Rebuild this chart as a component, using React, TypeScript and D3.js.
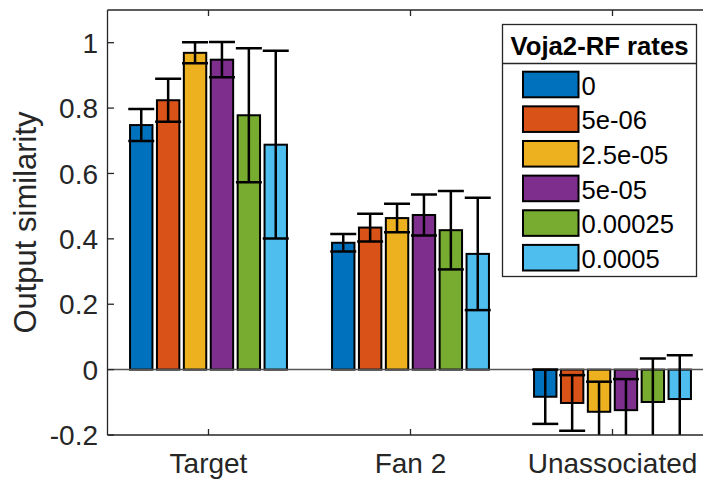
import React from 'react';
import * as d3 from 'd3';

const categories = ['Target', 'Fan 2', 'Unassociated'];
const rates = ['0', '5e-06', '2.5e-05', '5e-05', '0.00025', '0.0005'];
const colors = ['#0072BD', '#D95319', '#EDB120', '#7E2F8E', '#77AC30', '#4DBEEE'];
// means[category][rate]
const targetMeans = [0.748, 0.824, 0.969, 0.948, 0.778, 0.688];
const fan2Means = [0.388, 0.4345, 0.4635, 0.473, 0.4265, 0.354];
const unassocMeans = [-0.083, -0.102, -0.129, -0.124, -0.099, -0.09];
const targetErr = [0.049, 0.066, 0.032, 0.054, 0.205, 0.287];
const fan2Err = [0.027, 0.0425, 0.0435, 0.063, 0.12, 0.172];
const unassocErr = [0.083, 0.085, 0.092, 0.095, 0.133, 0.134];
const yTicks = [-0.2, 0, 0.2, 0.4, 0.6, 0.8, 1];
const yTickLabels = ['-0.2', '0', '0.2', '0.4', '0.6', '0.8', '1'];

const means = [targetMeans, fan2Means, unassocMeans];
const errs = [targetErr, fan2Err, unassocErr];

const W = 703;
const H = 481;
const FONT = '"Liberation Sans", Arial, Helvetica, sans-serif';
const AX = '#262626';

export default function App() {
  const x = d3.scaleLinear().domain([0.5, 3.5]).range([107.5, 713.5]);
  const y = d3.scaleLinear().domain([-0.2, 1.1]).range([435, 10]);
  const groupW = 161.4;
  const sub = d3.scaleBand<string>().domain(rates).range([-groupW / 2, groupW / 2]).paddingInner(0.167).paddingOuter(0.0835);
  const bw = sub.bandwidth();
  const capW = 26;
  const left = x(0.5);
  const top = y(1.1);
  const bottom = y(-0.2);

  const legX0 = 502.5, legX1 = 696.5, legY0 = 24.5, legSep = 63.5, legY1 = 276.5;
  const rowY = d3.scaleLinear().domain([0, 5]).range([84.5, 257.7]);

  return (
    <svg width={W} height={H} style={{ position: 'absolute', left: 0, top: 0, background: '#fff' }} fontFamily={FONT}>
      <defs>
        <clipPath id="axclip">
          <rect x={left} y={top} width={x(3.5) - left} height={bottom - top} />
        </clipPath>
      </defs>
      <rect x={0} y={0} width={W} height={H} fill="#fff" />
      <g clipPath="url(#axclip)">
        {categories.map((c, ci) =>
          rates.map((r, ri) => {
            const cx = x(ci + 1) + (sub(r) as number) + bw / 2;
            const v = means[ci][ri];
            return (
              <rect key={`b${ci}-${ri}`} x={cx - bw / 2} y={Math.min(y(v), y(0))} width={bw}
                height={Math.abs(y(v) - y(0))} fill={colors[ri]} stroke="#000" strokeWidth={2} />
            );
          })
        )}
        <line x1={left} x2={W} y1={y(0)} y2={y(0)} stroke="#555" strokeWidth={1.5} />
        {categories.map((c, ci) =>
          rates.map((r, ri) => {
            const cx = x(ci + 1) + (sub(r) as number) + bw / 2;
            const v = means[ci][ri];
            const e = errs[ci][ri];
            return (
              <g key={`e${ci}-${ri}`} stroke="#000" strokeWidth={2.5}>
                <line x1={cx} x2={cx} y1={y(v + e)} y2={y(v - e)} />
                <line x1={cx - capW / 2} x2={cx + capW / 2} y1={y(v + e)} y2={y(v + e)} />
                <line x1={cx - capW / 2} x2={cx + capW / 2} y1={y(v - e)} y2={y(v - e)} />
              </g>
            );
          })
        )}
      </g>
      {/* axes box */}
      <line x1={left} x2={W} y1={top} y2={top} stroke={AX} strokeWidth={1.3} />
      <line x1={left} x2={W} y1={bottom} y2={bottom} stroke={AX} strokeWidth={1.3} />
      <line x1={left} x2={left} y1={top} y2={bottom} stroke={AX} strokeWidth={1.3} />
      {categories.map((c, ci) => (
        <g key={`xt${ci}`}>
          <line x1={x(ci + 1)} x2={x(ci + 1)} y1={top} y2={top + 6} stroke={AX} strokeWidth={1.3} />
          <line x1={x(ci + 1)} x2={x(ci + 1)} y1={bottom} y2={bottom - 6} stroke={AX} strokeWidth={1.3} />
          <text x={x(ci + 1)} y={473} textAnchor="middle" fontSize={28} fill={AX}>{c}</text>
        </g>
      ))}
      {yTicks.map((t, i) => (
        <g key={`yt${i}`}>
          <line x1={left} x2={left + 6.5} y1={y(t)} y2={y(t)} stroke={AX} strokeWidth={1.3} />
          <text x={98} y={y(t)} dy="0.36em" textAnchor="end" fontSize={28} fill={AX}>{yTickLabels[i]}</text>
        </g>
      ))}
      <text transform={`translate(35.6,222.5) rotate(-90)`} textAnchor="middle" fontSize={31} fill={AX}>Output similarity</text>
      {/* legend */}
      <rect x={legX0} y={legY0} width={legX1 - legX0} height={legY1 - legY0} fill="#fff" stroke={AX} strokeWidth={1.3} />
      <line x1={legX0} x2={legX1} y1={legSep} y2={legSep} stroke={AX} strokeWidth={1.3} />
      <text x={(legX0 + legX1) / 2} y={55} textAnchor="middle" fontSize={25.7} fontWeight="bold" fill="#000">Voja2-RF rates</text>
      {rates.map((r, ri) => (
        <g key={`lg${ri}`}>
          <rect x={523} y={rowY(ri) - 12.8} width={55.5} height={25.6} fill={colors[ri]} stroke="#000" strokeWidth={2} />
          <text x={581.5} y={rowY(ri) + 10.3} fontSize={25.6} fill="#000">{r}</text>
        </g>
      ))}
    </svg>
  );
}
